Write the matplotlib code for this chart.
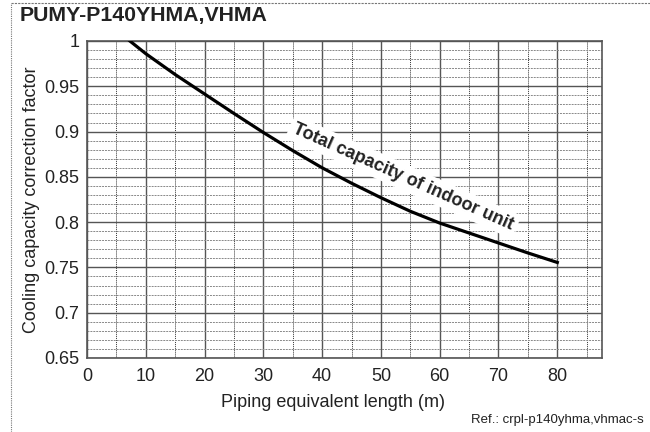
import numpy as np
import matplotlib.pyplot as plt
from matplotlib.lines import Line2D

plt.rcParams['font.family'] = ['Liberation Sans', 'DejaVu Sans']

# datos
longitud = [7.3, 10, 15, 20, 25, 30, 35, 40, 45, 50, 55, 60, 65, 70, 75, 80]
factor = [1.0, 0.986, 0.963, 0.9415, 0.920, 0.899, 0.879, 0.860, 0.843,
          0.827, 0.812, 0.799, 0.788, 0.777, 0.766, 0.7555]
x_ticks = [0, 10, 20, 30, 40, 50, 60, 70, 80]
y_ticks = [0.65, 0.7, 0.75, 0.8, 0.85, 0.9, 0.95, 1.0]
y_labels = ["0.65", "0.7", "0.75", "0.8", "0.85", "0.9", "0.95", "1"]

fig = plt.figure(figsize=(6.5, 4.32), dpi=100)
ax = fig.add_axes([0.1338, 0.1713, 0.7923, 0.7338])

ax.plot(longitud, factor, color="black", linewidth=2.3, zorder=3)

ax.set_xlim(0, 87.6)
ax.set_ylim(0.65, 1.0)
ax.set_xticks(x_ticks)
ax.set_yticks(y_ticks)
ax.set_yticklabels(y_labels)
ax.set_xticks(np.arange(5, 90, 10), minor=True)
ax.set_yticks(np.arange(0.66, 1.0, 0.01), minor=True)
ax.tick_params(which="both", length=0, labelsize=13, colors="#222222")
ax.tick_params(axis="y", pad=5.5)
ax.tick_params(axis="x", pad=7)

# grilla
ax.grid(which="major", color="#555555", linewidth=1.0, linestyle="-")
ax.grid(which="minor", axis="y", color="#888888", linewidth=0.7, linestyle=(0, (2, 1)))
ax.grid(which="minor", axis="x", color="#333333", linewidth=0.7, linestyle=(0, (1, 1)))
ax.set_axisbelow(True)
for s in ax.spines.values():
    s.set_color("#555555")
    s.set_linewidth(1.2)

ax.set_xlabel("Piping equivalent length (m)", fontsize=13, color="#222222")
ax.xaxis.set_label_coords(0.478, -0.115)
ax.set_ylabel("Cooling capacity correction factor", fontsize=13, color="#222222")
ax.yaxis.set_label_coords(-0.091, 0.5)

ax.text(53.8, 0.850, "Total capacity of indoor unit", rotation=-24,
        rotation_mode="anchor", ha="center", va="center",
        fontsize=13, fontweight="bold", color="#222222", zorder=4,
        bbox=dict(facecolor="white", edgecolor="none", pad=3))

fig.text(20 / 650, 1 - 16 / 432, "PUMY-P140YHMA,VHMA", fontsize=15.3,
         fontweight="bold", color="#222222", ha="left", va="center")
fig.text(644 / 650, 1 - 420 / 432, "Ref.: crpl-p140yhma,vhmac-s", fontsize=9.5,
         color="#222222", ha="right", va="center")

# borde punteado
fig.add_artist(Line2D([11 / 650, 1], [1 - 3 / 432, 1 - 3 / 432], color="#777777",
                      linewidth=0.8, linestyle=(0, (2, 1))))
fig.add_artist(Line2D([11 / 650, 11 / 650], [0, 1 - 3 / 432], color="#777777",
                      linewidth=0.8, linestyle=(0, (1, 1))))

fig.savefig("out.png", dpi=100)
